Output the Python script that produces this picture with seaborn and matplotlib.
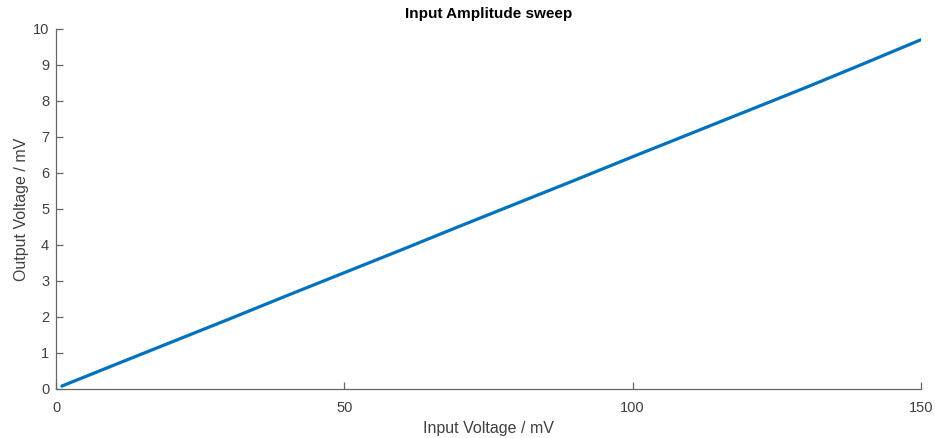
import matplotlib
matplotlib.use("Agg")
import matplotlib.pyplot as plt
import seaborn as sns
import pandas as pd

# Amplitude sweep measurements
input_mv = [1, 10, 20, 30, 40, 50, 60, 70, 80, 90, 100, 110, 120, 130, 140, 150]
output_mv = [0.08, 0.66, 1.30, 1.94, 2.59, 3.23, 3.87, 4.52, 5.16, 5.80,
             6.45, 7.09, 7.73, 8.37, 9.03, 9.70]

x_ticks = [0, 50, 100, 150]
y_ticks = list(range(0, 11))

sns.set_theme(style="ticks")
plt.rcParams["font.family"] = ["Liberation Sans", "DejaVu Sans"]
plt.rcParams["xtick.direction"] = "in"
plt.rcParams["ytick.direction"] = "in"

df = pd.DataFrame({"Input": input_mv, "Output": output_mv})

fig = plt.figure(figsize=(9.35, 4.38), dpi=100)
ax = fig.add_axes([0.060, 0.112, 0.925, 0.822])

sns.lineplot(data=df, x="Input", y="Output", ax=ax, color="#0072BD",
             linewidth=2.3, estimator=None, sort=False)

ax.set_xlim(0, 150)
ax.set_ylim(0, 10)
ax.set_xticks(x_ticks)
ax.set_yticks(y_ticks)

text_col = "#404040"
ax.set_title("Input Amplitude sweep", fontsize=11, fontweight="bold",
             color="black", pad=8)
ax.set_xlabel("Input Voltage / mV", fontsize=11.5, color=text_col, labelpad=4)
ax.set_ylabel("Output Voltage / mV", fontsize=11.5, color=text_col, labelpad=3)

for side in ("top", "right"):
    ax.spines[side].set_visible(False)
for side in ("left", "bottom"):
    ax.spines[side].set_color("#666666")
    ax.spines[side].set_linewidth(0.9)

ax.tick_params(axis="both", direction="in", length=5, width=0.9,
               colors="#666666", labelcolor=text_col, labelsize=10.5)
ax.tick_params(axis="x", pad=9)
ax.tick_params(axis="y", pad=5)

fig.savefig("out.png", dpi=100, facecolor="white")
